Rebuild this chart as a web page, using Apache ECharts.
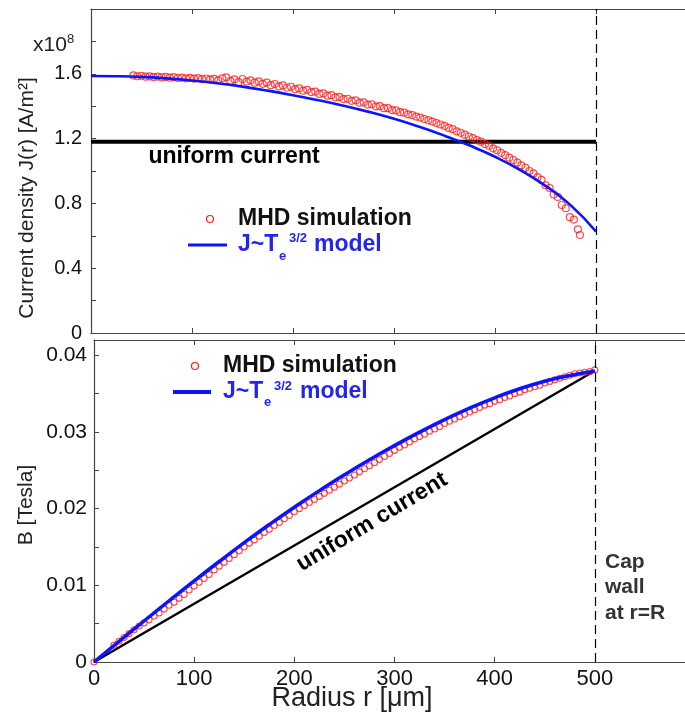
<!DOCTYPE html>
<html>
<head>
<meta charset="utf-8">
<script src="https://cdn.jsdelivr.net/npm/echarts@6/dist/echarts.min.js"></script>
<style>
  html, body { margin: 0; padding: 0; background: #fff; }
  #chart { width: 685px; height: 713px; }
</style>
</head>
<body>
<div id="chart"></div>
<script>
// top panel: current density, units of 1e8 A/m^2
const jSimR = [42,46,50,54,58,62,66,70,74,78,82,86,90,94,98,102,106,110,114,118,122,126,130,134,138,142,146,150,154,158,162,166,170,174,178,182,186,190,194,198,202,206,210,214,218,222,226,230,234,238,242,246,250,254,258,262,266,270,274,278,282,286,290,294,298,302,306,310,314,318,322,326,330,334,338,342,346,350,354,358,362,366,370,374,378,382,386,390,394,398,402,406,410,414,418,422,426,430,434,438,442,446,450,454,458,462,466,470,474,478,482,484];
const jSim = [1.590,1.585,1.588,1.582,1.584,1.580,1.583,1.578,1.581,1.576,1.579,1.574,1.577,1.572,1.575,1.570,1.573,1.567,1.571,1.565,1.569,1.560,1.572,1.578,1.556,1.566,1.548,1.568,1.552,1.560,1.545,1.553,1.538,1.546,1.530,1.537,1.522,1.528,1.514,1.520,1.505,1.510,1.496,1.501,1.487,1.490,1.476,1.479,1.465,1.468,1.455,1.457,1.444,1.446,1.433,1.436,1.422,1.424,1.410,1.412,1.399,1.400,1.388,1.388,1.376,1.374,1.363,1.360,1.350,1.345,1.336,1.330,1.321,1.313,1.305,1.296,1.287,1.278,1.266,1.258,1.245,1.236,1.224,1.213,1.203,1.190,1.181,1.166,1.156,1.140,1.128,1.112,1.098,1.082,1.068,1.052,1.035,1.020,1.000,0.985,0.962,0.945,0.912,0.895,0.855,0.840,0.790,0.770,0.715,0.700,0.640,0.605];
const modelR = [0,25,50,75,100,125,150,175,200,225,250,275,300,325,350,375,400,425,450,475,500];
const jModel = [1.586,1.585,1.581,1.572,1.559,1.542,1.521,1.496,1.468,1.437,1.403,1.365,1.322,1.273,1.218,1.157,1.088,1.006,0.908,0.788,0.626];
const jUniform = 1.18;

// bottom panel: magnetic field, Tesla
const bSimR = [0,20,25,30,35,40,45,50,55,60,65,70,75,80,85,90,95,100,105,110,115,120,125,130,135,140,145,150,155,160,165,170,175,180,185,190,195,200,205,210,215,220,225,230,235,240,245,250,255,260,265,270,275,280,285,290,295,300,305,310,315,320,325,330,335,340,345,350,355,360,365,370,375,380,385,390,395,400,405,410,415,420,425,430,435,440,445,450,455,460,465,470,475,480,485,490,495,500];
const bSim = [0,0.0022,0.0027,0.0032,0.0037,0.0042,0.0047,0.0051,0.0055,0.0060,0.0064,0.0069,0.0074,0.0078,0.0083,0.0088,0.0094,0.0099,0.0104,0.0109,0.0114,0.0120,0.0125,0.0130,0.0135,0.0140,0.0145,0.0150,0.0155,0.0159,0.0164,0.0169,0.0173,0.0178,0.0182,0.0187,0.0191,0.0196,0.0200,0.0204,0.0208,0.0212,0.0216,0.0220,0.0224,0.0228,0.0232,0.0236,0.0240,0.0244,0.0248,0.0252,0.0256,0.0260,0.0264,0.0268,0.0272,0.0276,0.0280,0.0283,0.0287,0.0291,0.0294,0.0297,0.0301,0.0304,0.0307,0.0311,0.0314,0.0317,0.0320,0.0323,0.0326,0.0329,0.0332,0.0335,0.0337,0.0340,0.0342,0.0345,0.0347,0.0350,0.0352,0.0355,0.0357,0.0359,0.0361,0.0364,0.0366,0.0368,0.0370,0.0372,0.0374,0.0376,0.0377,0.0378,0.0379,0.0381];
const bModel = [0,0.00268,0.00535,0.00799,0.01058,0.01311,0.01557,0.01793,0.02019,0.02235,0.02441,0.02637,0.02823,0.02998,0.03161,0.03311,0.03446,0.03564,0.03662,0.03736,0.03796];
const bUniformEnd = 0.0380;
const wallR = 500;

const FONT = '"Liberation Sans", Arial, sans-serif';
const axisCol = '#444';

let chart = echarts.init(document.getElementById('chart'));

function pairs(xs, ys) { return xs.map((x, i) => [x, ys[i]]); }

function xAx(grid, pos, max, showLabels) {
    return {
        type: 'value', gridIndex: grid, position: pos, min: 0, max: max, interval: 100,
        axisLine: { show: true, onZero: false, lineStyle: { color: axisCol, width: 1.2 } },
        axisTick: { show: true, inside: true, length: 5, lineStyle: { color: axisCol } },
        axisLabel: {
            show: showLabels, showMaxLabel: false, margin: 6,
            color: '#111', fontSize: 22, fontFamily: FONT
        },
        splitLine: { show: false }
    };
}

function txt(x, y, text, font, fill, align, extra) {
    let el = {
        type: 'text', x: x, y: y,
        style: { text: text, font: font, fill: fill,
                 align: align, verticalAlign: 'middle', textAlign: align, textVerticalAlign: 'middle' }
    };
    return Object.assign(el, extra || {});
}

const wallLine = {
    silent: true, symbol: 'none', label: { show: false },
    lineStyle: { color: '#000', type: [9, 5], width: 1.2 },
    data: [{ xAxis: wallR }]
};

const BLUE = '#0a14ff';
const BLUE_TXT = '#2424f0';
const RED = '#ff1a1a';

option = {
    backgroundColor: '#fff',
    animation: false,
    grid: [
        { left: 91, right: 0, top: 9, height: 324 },
        { left: 94, right: 0, top: 340, height: 322 }
    ],
    xAxis: [
        xAx(0, 'bottom', 588, false),
        xAx(0, 'top', 588, false),
        xAx(1, 'bottom', 590, true),
        xAx(1, 'top', 590, false)
    ],
    yAxis: [
        {
            type: 'value', gridIndex: 0, min: 0, max: 2.0, interval: 0.2,
            axisLine: { show: true, lineStyle: { color: axisCol, width: 1.2 } },
            axisTick: { show: true, inside: true, length: 5, lineStyle: { color: axisCol } },
            axisLabel: {
                margin: 9, color: '#111', fontSize: 20, fontFamily: FONT,
                formatter: function (v) {
                    let k = Math.round(v * 10);
                    if (k % 4 !== 0 || k > 16) return '';
                    return k === 0 ? '0' : v.toFixed(1);
                }
            },
            splitLine: { show: false }
        },
        {
            type: 'value', gridIndex: 1, min: 0, max: 0.042, interval: 0.005,
            axisLine: { show: true, lineStyle: { color: axisCol, width: 1.2 } },
            axisTick: { show: true, inside: true, length: 5, lineStyle: { color: axisCol } },
            axisLabel: {
                margin: 7, color: '#111', fontSize: 21, fontFamily: FONT,
                formatter: function (v) {
                    let k = Math.round(v * 1000);
                    if (k % 10 !== 0 || k > 40) return '';
                    return k === 0 ? '0' : v.toFixed(2);
                }
            },
            splitLine: { show: false }
        }
    ],
    series: [
        {
            name: 'uniform J', type: 'line', xAxisIndex: 0, yAxisIndex: 0,
            data: [[0, jUniform], [wallR, jUniform]], showSymbol: false,
            lineStyle: { color: '#000', width: 4 }, z: 2,
            markLine: wallLine
        },
        {
            name: 'MHD J', type: 'scatter', xAxisIndex: 0, yAxisIndex: 0,
            data: pairs(jSimR, jSim), symbol: 'circle', symbolSize: 7,
            itemStyle: { color: 'rgba(0,0,0,0)', borderColor: RED, borderWidth: 1.2 }, z: 3
        },
        {
            name: 'model J', type: 'line', xAxisIndex: 0, yAxisIndex: 0,
            data: pairs(modelR, jModel), smooth: true, showSymbol: false,
            lineStyle: { color: BLUE, width: 2.6 }, z: 4
        },
        {
            name: 'uniform B', type: 'line', xAxisIndex: 2, yAxisIndex: 1,
            data: [[0, 0], [wallR, bUniformEnd]], showSymbol: false,
            lineStyle: { color: '#000', width: 2.4 }, z: 2,
            markLine: wallLine
        },
        {
            name: 'MHD B', type: 'scatter', xAxisIndex: 2, yAxisIndex: 1,
            data: pairs(bSimR, bSim), symbol: 'circle', symbolSize: 6,
            itemStyle: { color: 'rgba(0,0,0,0)', borderColor: RED, borderWidth: 1.1 }, z: 3
        },
        {
            name: 'model B', type: 'line', xAxisIndex: 2, yAxisIndex: 1,
            data: pairs(modelR, bModel), smooth: true, showSymbol: false,
            lineStyle: { color: BLUE, width: 3.5 }, z: 4
        }
    ],
    graphic: [
        // axis titles
        txt(27, 198, 'Current density J(r) [A/m²]', '21px ' + FONT, '#222', 'center', { rotation: Math.PI / 2 }),
        txt(26, 505, 'B [Tesla]', '21px ' + FONT, '#222', 'center', { rotation: Math.PI / 2 }),
        txt(352, 699, 'Radius r [μm]', '27px ' + FONT, '#222', 'center'),
        txt(33, 45, 'x10', '21px ' + FONT, '#222', 'left'),
        txt(67, 39, '8', '13px ' + FONT, '#222', 'left'),
        // annotations
        txt(234, 157, 'uniform current', 'bold 23px ' + FONT, '#000', 'center'),
        txt(372, 522, 'uniform current', 'bold 23px ' + FONT, '#000', 'center', { rotation: 0.54 }),
        {
            type: 'text', x: 605, y: 549,
            style: { text: 'Cap\nwall\nat r=R', font: 'bold 21px ' + FONT, fill: '#333', lineHeight: 25.5,
                     align: 'left', verticalAlign: 'top', textAlign: 'left', textVerticalAlign: 'top' }
        },
        // top legend
        { type: 'circle', shape: { cx: 210, cy: 219, r: 3.5 }, style: { fill: 'none', stroke: RED, lineWidth: 1.2 } },
        txt(238, 219, 'MHD simulation', 'bold 23px ' + FONT, '#111', 'left'),
        { type: 'line', shape: { x1: 188, y1: 245, x2: 227, y2: 245 }, style: { stroke: BLUE, lineWidth: 3 } },
        txt(238, 245, 'J~T', 'bold 23px ' + FONT, BLUE_TXT, 'left'),
        txt(279, 256, 'e', 'bold 13px ' + FONT, BLUE_TXT, 'left'),
        txt(289, 238, '3/2', 'bold 13px ' + FONT, BLUE_TXT, 'left'),
        txt(314, 245, 'model', 'bold 23px ' + FONT, BLUE_TXT, 'left'),
        // bottom legend
        { type: 'circle', shape: { cx: 195, cy: 366, r: 3.5 }, style: { fill: 'none', stroke: RED, lineWidth: 1.2 } },
        txt(223, 366, 'MHD simulation', 'bold 23px ' + FONT, '#111', 'left'),
        { type: 'line', shape: { x1: 173, y1: 392, x2: 211, y2: 392 }, style: { stroke: BLUE, lineWidth: 4 } },
        txt(223, 392, 'J~T', 'bold 23px ' + FONT, BLUE_TXT, 'left'),
        txt(264, 402, 'e', 'bold 13px ' + FONT, BLUE_TXT, 'left'),
        txt(274, 386, '3/2', 'bold 13px ' + FONT, BLUE_TXT, 'left'),
        txt(300, 392, 'model', 'bold 23px ' + FONT, BLUE_TXT, 'left')
    ]
};

chart.setOption(option);

window.onresize = function () {
    chart.resize();
};
</script>
</body>
</html>
